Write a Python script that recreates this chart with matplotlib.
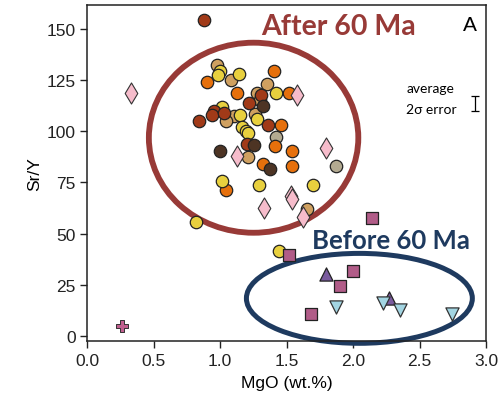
import matplotlib
matplotlib.use("Agg")
import matplotlib.pyplot as plt
from matplotlib.patches import Ellipse

plt.rcParams['font.family'] = ['Liberation Sans', 'DejaVu Sans']

# ---- data (MgO wt.%, Sr/Y) ----
yellow_x = [0.996, 0.98, 1.142, 1.42, 1.01, 1.146, 1.28, 1.161, 1.195, 1.21, 1.01, 1.29, 1.70, 0.817, 1.44]
yellow_y = [129.5, 127.5, 128.1, 118.6, 111.7, 107.8, 106.1, 102.2, 100.3, 99.1, 75.8, 74.0, 73.7, 55.6, 41.3]
tan_x = [0.976, 1.081, 1.35, 1.276, 1.30, 1.10, 1.046, 1.265, 1.212, 1.65]
tan_y = [132.3, 125.0, 123.2, 119.0, 115.2, 107.6, 105.1, 108.4, 87.3, 62.0]
orange_x = [1.408, 0.898, 1.129, 1.519, 1.456, 1.41, 1.541, 1.32, 1.539, 1.041]
orange_y = [129.7, 124.0, 118.6, 119.0, 103.0, 92.9, 90.2, 83.8, 83.2, 71.3]
rust_x = [0.878, 1.31, 1.219, 0.95, 0.938, 1.029, 0.837, 1.36, 1.199]
rust_y = [154.5, 118.0, 114.0, 110.0, 107.9, 108.9, 105.3, 103.0, 93.9]
dark_x = [1.32, 1.252, 1.0, 1.373]
dark_y = [112.2, 93.4, 90.5, 81.5]
gray_x = [1.418, 1.868]
gray_y = [97.3, 83.3]
diamond_x = [0.327, 1.574, 1.129, 1.798, 1.53, 1.54, 1.33, 1.62]
diamond_y = [119.0, 117.7, 87.9, 91.8, 68.5, 67.0, 62.3, 58.0]
square_x = [2.142, 1.521, 2.0, 1.90, 1.68]
square_y = [57.5, 39.7, 31.7, 24.4, 10.7]
tri_up_x = [1.793, 2.273]
tri_up_y = [30.1, 18.6]
tri_down_x = [2.225, 1.87, 2.353, 2.743]
tri_down_y = [16.0, 14.3, 12.4, 10.7]
plus_x = [0.259]
plus_y = [4.9]

x_ticks = [0.0, 0.5, 1.0, 1.5, 2.0, 2.5, 3.0]
y_ticks = [0, 25, 50, 75, 100, 125, 150]

fig = plt.figure(figsize=(4.99, 4.06), dpi=100)
ax = fig.add_axes([0.175, 0.157, 0.799, 0.829])

ec = '#222222'
circ = dict(marker='o', s=80, edgecolors=ec, linewidths=0.9, zorder=3)
ax.scatter(tan_x, tan_y, c='#cfa060', **circ)
ax.scatter(gray_x, gray_y, c='#b3aa91', **circ)
ax.scatter(orange_x, orange_y, c='#e6700c', **circ)
ax.scatter(yellow_x, yellow_y, c='#e8d03e', **circ)
ax.scatter(rust_x, rust_y, c='#a13a18', **circ)
ax.scatter(dark_x, dark_y, c='#4d3424', **circ)
ax.scatter(diamond_x, diamond_y, c='#f6bccb', marker='d', s=115, edgecolors='#333333', linewidths=0.8, zorder=4)
ax.scatter(square_x, square_y, c='#b15c88', marker='s', s=78, edgecolors=ec, linewidths=0.9, zorder=3)
ax.scatter(tri_up_x, tri_up_y, c='#7a5b9e', marker='^', s=90, edgecolors=ec, linewidths=0.9, zorder=3)
ax.scatter(tri_down_x, tri_down_y, c='#a3d5e2', marker='v', s=90, edgecolors='#333333', linewidths=0.9, zorder=3)
ax.scatter(plus_x, plus_y, c='#c0608f', marker='P', s=70, edgecolors='#333333', linewidths=0.7, zorder=3)

ax.add_patch(Ellipse((1.251, 96.9), 1.576, 93, fill=False, edgecolor='#983a37', linewidth=4.2, zorder=2))
ax.add_patch(Ellipse((2.047, 18.3), 1.70, 44, fill=False, edgecolor='#1e3a5f', linewidth=3.6, zorder=2, clip_on=False))

ax.text(1.89, 151.5, 'After 60 Ma', color='#983a37', fontsize=20.5, fontweight='bold',
        family=['Lato', 'DejaVu Sans'], ha='center', va='center')
ax.text(2.285, 47.0, 'Before 60 Ma', color='#1e3a5f', fontsize=18.5, fontweight='bold',
        family=['Lato', 'DejaVu Sans'], ha='center', va='center')
ax.text(2.875, 152.5, 'A', fontsize=15, ha='center', va='center')
ax.text(2.585, 121.0, 'average', fontsize=10, family=['Lato', 'DejaVu Sans'], ha='center', va='center')
ax.text(2.585, 111.0, '2σ error', fontsize=10, family=['Lato', 'DejaVu Sans'], ha='center', va='center')
ax.errorbar([2.918], [113.6], yerr=[3.7], fmt='none', ecolor='black', elinewidth=0.9, capsize=3, capthick=0.9)

ax.set_xlim(0, 3)
ax.set_ylim(-2.7, 162)
ax.set_xticks(x_ticks)
ax.set_xticklabels([f'{v:.1f}' for v in x_ticks])
ax.set_yticks(y_ticks)
ax.tick_params(direction='out', length=5, width=1, labelsize=12.5, colors='#222222')
for s in ax.spines.values():
    s.set_linewidth(1.1)
    s.set_color('#222222')
ax.set_xlabel('MgO (wt.%)', fontsize=12.5, labelpad=5)
ax.set_ylabel('Sr/Y', fontsize=12.5, labelpad=3)

fig.savefig('out.png', dpi=100)
